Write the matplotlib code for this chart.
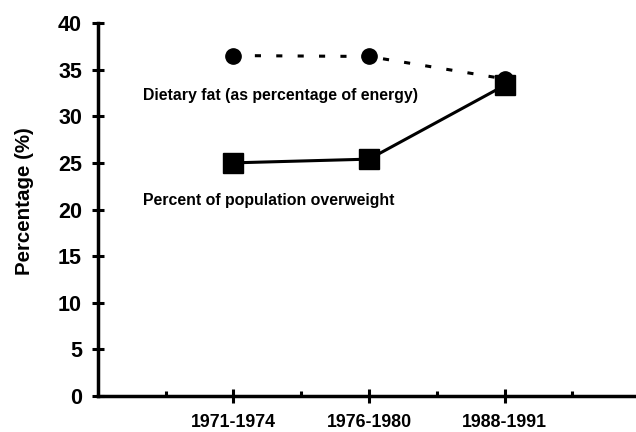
import matplotlib
matplotlib.use("Agg")
import matplotlib.pyplot as plt
from matplotlib.ticker import FixedLocator

plt.rcParams["font.family"] = ["Liberation Sans", "DejaVu Sans"]
plt.rcParams["font.weight"] = "bold"

# data
periods = ["1971-1974", "1976-1980", "1988-1991"]
period_pos = [1, 2, 3]
dietary_fat = [36.5, 36.4, 34.0]
overweight = [25.0, 25.4, 33.3]

fig = plt.figure(figsize=(6.36, 4.32), dpi=100)
ax = fig.add_axes([0.154, 0.083, 0.846, 0.864])

ax.plot(period_pos, dietary_fat, color="black", lw=2.2, ls=(0, (2, 5)),
        marker="o", markersize=11, zorder=3)
ax.plot(period_pos, overweight, color="black", lw=2.2, ls="-",
        marker="s", markersize=15, zorder=4)

ax.text(0.33, 32.2, "Dietary fat (as percentage of energy)", fontsize=11.4,
        va="center", ha="left")
ax.text(0.33, 21.0, "Percent of population overweight", fontsize=11.4,
        va="center", ha="left")

ax.set_xlim(0, 3.97)
ax.set_ylim(0, 40)
ax.set_yticks(range(0, 41, 5))
ax.set_xticks(period_pos)
ax.set_xticklabels(periods)
ax.xaxis.set_minor_locator(FixedLocator([0.5, 1.5, 2.5, 3.5]))

for side in ("top", "right"):
    ax.spines[side].set_visible(False)
for side in ("left", "bottom"):
    ax.spines[side].set_linewidth(2.5)

ax.tick_params(axis="y", direction="inout", length=9, width=2.2,
               labelsize=15.5, pad=7)
ax.tick_params(axis="x", which="major", direction="inout", length=10,
               width=2.2, labelsize=12.8, pad=7.5)
ax.tick_params(axis="x", which="minor", direction="in", length=3.5,
               width=2.2)

ax.set_ylabel("Percentage (%)", fontsize=14.8, fontweight="bold")
ax.yaxis.set_label_coords(-0.118, 0.523)

fig.savefig("out.png", dpi=100, facecolor="white")
